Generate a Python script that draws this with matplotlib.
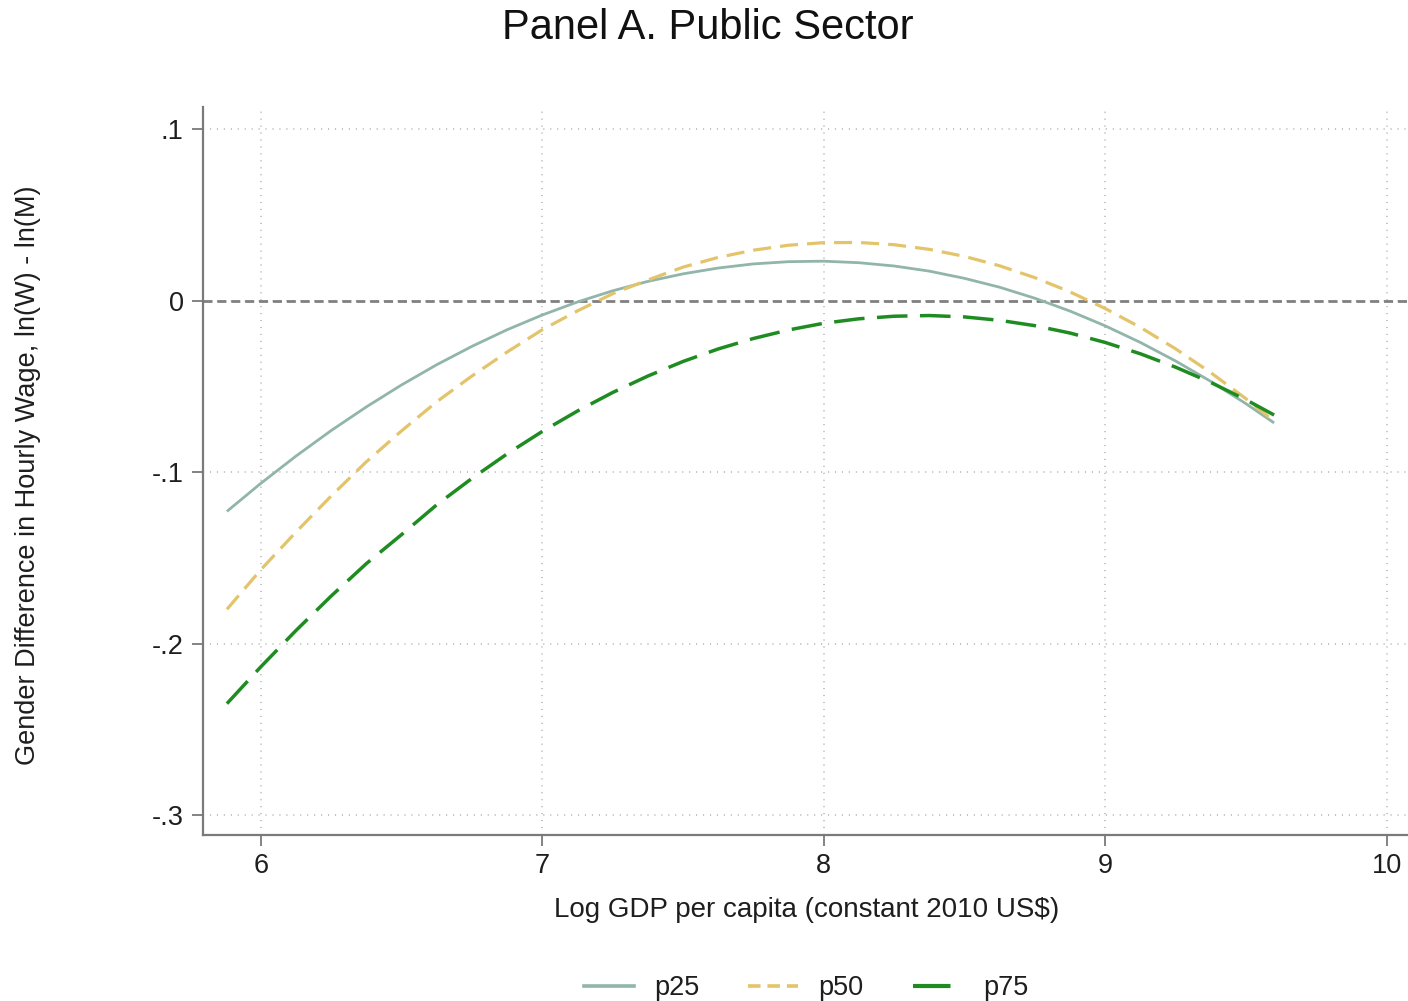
import matplotlib
matplotlib.use("Agg")
import matplotlib.pyplot as plt
from matplotlib.lines import Line2D

plt.rcParams['font.family'] = ['Liberation Sans', 'DejaVu Sans']
plt.rcParams['lines.scale_dashes'] = False

# Data
x_vals = [5.88, 6.0, 6.125, 6.25, 6.375, 6.5, 6.625, 6.75, 6.875, 7.0, 7.125, 7.25,
          7.375, 7.5, 7.625, 7.75, 7.875, 8.0, 8.125, 8.25, 8.375, 8.5, 8.625, 8.75,
          8.875, 9.0, 9.125, 9.25, 9.375, 9.5, 9.6]
p25 = [-0.1229, -0.1066, -0.0907, -0.0758, -0.0620, -0.0492, -0.0374, -0.0267, -0.0170,
       -0.0084, -0.0008, 0.0057, 0.0112, 0.0156, 0.0190, 0.0214, 0.0227, 0.0230, 0.0221,
       0.0202, 0.0172, 0.0130, 0.0078, 0.0014, -0.0061, -0.0147, -0.0244, -0.0352,
       -0.0471, -0.0601, -0.0713]
p50 = [-0.1800, -0.1570, -0.1350, -0.1140, -0.0940, -0.0760, -0.0590, -0.0440, -0.0300,
       -0.0170, -0.0060, 0.0040, 0.0120, 0.0195, 0.0252, 0.0294, 0.0323, 0.0338, 0.0339,
       0.0326, 0.0299, 0.0258, 0.0203, 0.0134, 0.0051, -0.0046, -0.0156, -0.0281,
       -0.0420, -0.0572, -0.0704]
p75 = [-0.2350, -0.2136, -0.1924, -0.1723, -0.1534, -0.1365, -0.1191, -0.1037, -0.0894,
       -0.0763, -0.0644, -0.0536, -0.0440, -0.0355, -0.0282, -0.0221, -0.0171, -0.0132,
       -0.0106, -0.0091, -0.0087, -0.0095, -0.0115, -0.0146, -0.0189, -0.0244, -0.0310,
       -0.0388, -0.0477, -0.0578, -0.0667]

x_ticks = [6, 7, 8, 9, 10]
x_tick_labels = ["6", "7", "8", "9", "10"]
y_ticks = [0.1, 0.0, -0.1, -0.2, -0.3]
y_tick_labels = [".1", "0", "-.1", "-.2", "-.3"]
series_labels = ["p25", "p50", "p75"]

title = "Panel A. Public Sector"
xlabel = "Log GDP per capita (constant 2010 US$)"
ylabel = "Gender Difference in Hourly Wage, ln(W) - ln(M)"

c25 = "#91b5ab"
c50 = "#e3c46a"
c75 = "#1f8c22"
spine_c = "#7a7a7a"
grid_c = "#bdbdbd"
text_c = "#1e1e1e"

W, H = 1408, 1001
fig = plt.figure(figsize=(W / 100, H / 100), dpi=100)

left_px, right_px, top_px, bot_px = 203, 1443, 107, 835
ax_w = right_px - left_px
ax_h = bot_px - top_px
ax = fig.add_axes([left_px / W, 1 - bot_px / H, ax_w / W, ax_h / H])

ax.set_xlim(5.795, 10.2)
ax.set_ylim(-0.3116, 0.1129)

ax.set_xticks(x_ticks)
ax.set_xticklabels(x_tick_labels)
ax.set_yticks(y_ticks)
ax.set_yticklabels(y_tick_labels)

ax.grid(True, linestyle=(0, (0.8, 4.2)), color=grid_c, linewidth=1.3)
ax.set_axisbelow(True)

for s in ["top", "right"]:
    ax.spines[s].set_visible(False)
for s in ["left", "bottom"]:
    ax.spines[s].set_color(spine_c)
    ax.spines[s].set_linewidth(1.6)

ax.tick_params(axis="both", labelcolor=text_c, labelsize=19.5, length=8, width=1.3,
               color=spine_c)
ax.tick_params(axis="x", pad=5)
ax.tick_params(axis="y", pad=6)

ax.axhline(0, color="#808080", linewidth=2.0, linestyle=(0, (6.5, 3.5)), zorder=2)

ax.plot(x_vals, p25, color=c25, linewidth=2.0, solid_capstyle="butt", zorder=3)
ax.plot(x_vals, p50, color=c50, linewidth=2.3, linestyle=(0, (13, 6.5)), zorder=3)
ax.plot(x_vals, p75, color=c75, linewidth=2.5, linestyle=(0, (22, 9)), zorder=3)

ax.set_xlabel(xlabel, fontsize=20, color=text_c, va="center")
ax.xaxis.set_label_coords((807 - left_px) / ax_w, -(910 - bot_px) / ax_h)
ax.set_ylabel(ylabel, fontsize=19.5, color=text_c, va="center")
ax.yaxis.set_label_coords(-(left_px - 28) / ax_w, (bot_px - 475) / ax_h)

fig.text(708 / W, 1 - 28 / H, title, fontsize=30, ha="center", va="center", color="#111111")

handles = [
    Line2D([], [], color=c25, linewidth=2.6),
    Line2D([], [], color=c50, linewidth=2.6, linestyle=(0, (9, 5))),
    Line2D([], [], color=c75, linewidth=3.0, linestyle=(0, (27, 30))),
]
fig.legend(handles, series_labels, loc="center", bbox_to_anchor=(806 / W, 1 - 988 / H),
           ncol=3, frameon=False, fontsize=19.5, handlelength=1.85, handletextpad=0.75,
           columnspacing=1.8, labelcolor=text_c)

fig.savefig("out.png", dpi=100)
